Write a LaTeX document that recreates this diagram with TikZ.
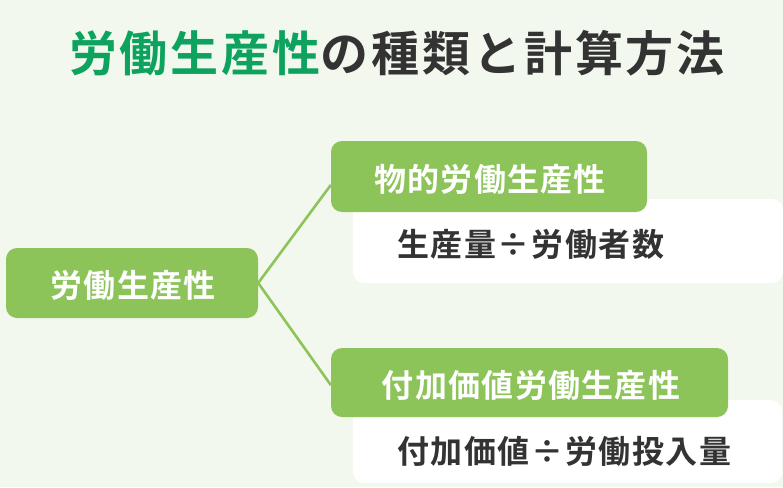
\documentclass[tikz,border=0pt]{standalone}
\usepackage{fontspec}
\newfontfamily\jp{Noto Sans CJK JP}[BoldFont={Noto Sans CJK JP Bold}]
\definecolor{bg}{HTML}{F2F8EE}
\definecolor{leaf}{HTML}{8CC45A}
\definecolor{ttlgreen}{HTML}{0DA35E}
\definecolor{ink}{HTML}{333333}
\tikzset{
  greenbox/.style={fill=leaf, rounded corners=11pt, inner sep=0pt},
  whitebox/.style={fill=white, rounded corners=11pt, inner sep=0pt},
  boxtext/.style={font=\jp\bfseries\fontsize{32}{36}\selectfont\addfontfeatures{LetterSpace=4}, text=white, inner sep=0pt},
  formtext/.style={font=\jp\bfseries\fontsize{32}{36}\selectfont\addfontfeatures{LetterSpace=5}, text=ink, inner sep=0pt, anchor=west},
  link/.style={draw=leaf, line width=2.6pt}
}
\begin{document}
\begin{tikzpicture}[x=1pt,y=-1pt]
\fill[bg] (0,0) rectangle (783,487);
\useasboundingbox (0,0) rectangle (783,487);
% title
\node[inner sep=0pt, font=\jp\bfseries\fontsize{48}{54}\selectfont\addfontfeatures{LetterSpace=6}] (title) at (397,53)
  {\textcolor{ttlgreen}{労働生産性}\textcolor{ink}{の種類と計算方法}};
% root
\node[greenbox, minimum width=252pt, minimum height=70pt] (root) at (132,283) {};
\node[boxtext] (roottxt) at (133,285) {労働生産性};
% top branch
\node[whitebox, minimum width=430pt, minimum height=84pt] (w1) at (568,241) {};
\node[greenbox, minimum width=316pt, minimum height=71pt] (g1) at (489,176.5) {};
\node[boxtext] (g1txt) at (490,179) {物的労働生産性};
\node[formtext] (f1) at (397,244) {生産量÷労働者数};
% bottom branch
\node[whitebox, minimum width=429pt, minimum height=83pt] (w2) at (567.5,441.5) {};
\node[greenbox, minimum width=397pt, minimum height=69pt] (g2) at (529.5,382.5) {};
\node[boxtext] (g2txt) at (531,385) {付加価値労働生産性};
\node[formtext] (f2) at (397,451) {付加価値÷労働投入量};
% connectors
\coordinate (rootend) at (root.east);
\draw[link] (rootend) -- (g1.west |- 0,185);
\draw[link] (rootend) -- (g2.west |- 0,385);
\end{tikzpicture}
\end{document}
